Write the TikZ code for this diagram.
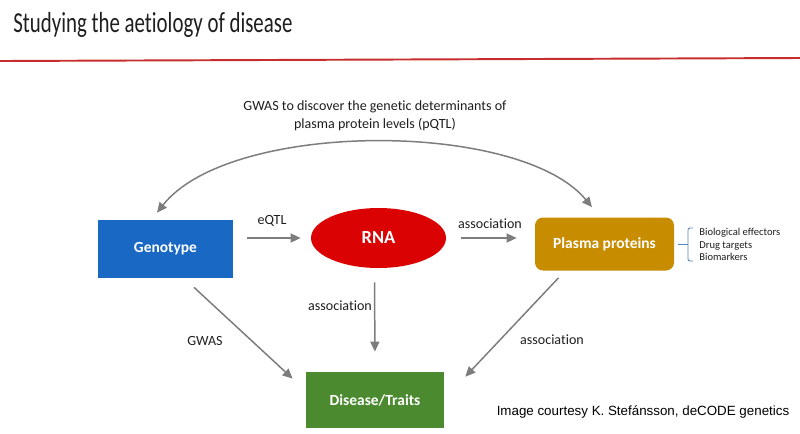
\documentclass[tikz,border=0pt]{standalone}
\usepackage{graphicx}
\usepackage{fontspec}
\setmainfont{Carlito}[Ligatures=NoCommon]
\newfontfamily\arialfont{Liberation Sans}
\usepackage{tikz}
\usetikzlibrary{shapes.geometric, arrows.meta, positioning}
\definecolor{genoblue}{RGB}{24,104,196}
\definecolor{rnared}{RGB}{218,2,2}
\definecolor{plasmagold}{RGB}{200,140,0}
\definecolor{diseasegreen}{RGB}{76,138,48}
\definecolor{arrowgray}{RGB}{125,125,125}
\definecolor{titlered}{RGB}{200,45,45}
\definecolor{bracketblue}{RGB}{90,135,185}
\definecolor{inkblack}{RGB}{30,30,30}

\begin{document}
\begin{tikzpicture}[x=0.2mm, y=-0.2mm,
  box/.style={inner sep=0pt, text=white, font=\fontsize{8.8pt}{10pt}\selectfont\bfseries},
  lbl/.style={inner sep=0pt, text=inkblack, font=\fontsize{8pt}{10.5pt}\selectfont},
  arr/.style={draw=arrowgray, line width=0.85pt, -{Triangle[length=2mm,width=1.8mm]}}]
\useasboundingbox (0,0) rectangle (800,433);
% Title and rule
\node[anchor=base west, inner sep=0pt, text=inkblack] (title) at (13,32)
  {\scalebox{0.72}[1]{\fontsize{16.5pt}{18pt}\selectfont Studying the aetiology of disease}};
\draw[titlered, line width=1.1pt] (0,61) -- (800,58);
% Nodes
\node[box, fill=genoblue, minimum width=27mm, minimum height=11.6mm] (geno) at (165.5,249) {Genotype};
\node[box, fill=rnared, ellipse, minimum width=27mm, minimum height=12mm,
  font=\fontsize{10.5pt}{12pt}\selectfont\bfseries] (rna) at (378.5,238) {RNA};
\node[box, fill=plasmagold, rounded corners=1.6mm, minimum width=27.8mm, minimum height=10.6mm] (plasma) at (604.5,244) {Plasma proteins};
\node[box, fill=diseasegreen, minimum width=27.6mm, minimum height=11.2mm] (disease) at (375,400) {Disease/Traits};
% Top curved arrow (pQTL)
\coordinate (genotop) at ([xshift=-1.7mm, yshift=1.4mm]geno.north);
\coordinate (plasmatop) at ([xshift=-2.5mm, yshift=2mm]plasma.north);
\draw[arr, {Triangle[length=2mm,width=1.8mm]}-{Triangle[length=2mm,width=1.8mm]}]
  (genotop) .. controls (230,120) and (520,120) .. (plasmatop);
\node[lbl, align=center] (pqtl) at (375,116) {GWAS to discover the genetic determinants of\\plasma protein levels (pQTL)};
% Straight arrows
\draw[arr, shorten <=2.8mm, shorten >=2mm] (geno.east |- rna.west) -- (rna.west);
\node[lbl] (eqtl) at (272,221) {eQTL};
\draw[arr, shorten <=3mm, shorten >=3.6mm] (rna.east) -- (rna.east -| plasma.west);
\node[lbl] (assocrp) at (490,224) {association};
\draw[arr, shorten <=2.8mm, shorten >=4mm] ([xshift=-0.8mm]rna.south) -- (disease.north);
\node[lbl] (assocrd) at (340,306) {association};
\draw[arr] ([xshift=5.7mm, yshift=-1.8mm]geno.south) -- ([xshift=-2.6mm, yshift=-1.4mm]disease.north west);
\node[lbl] (gwas) at (205,341) {GWAS};
\draw[arr] ([xshift=-9.2mm, yshift=-1.4mm]plasma.south) -- ([xshift=4.2mm, yshift=-1mm]disease.north east);
\node[lbl] (assocpd) at (552,340) {association};
% Bracket and list
\draw[bracketblue, line width=0.5pt, rounded corners=0.4mm] (693,228) -- (688,228) -- (688,261) -- (693,261);
\draw[bracketblue, line width=0.5pt] (678,244.5) -- (688,244.5);
\node[anchor=west, align=left, inner sep=0pt, text=inkblack, font=\fontsize{6pt}{7pt}\selectfont] (roles) at (699,244.5)
  {Biological effectors\\Drug targets\\Biomarkers};
% Credit
\node[inner sep=0pt, text=black, font=\arialfont\fontsize{7.6pt}{9pt}\selectfont] (credit) at (643,412)
  {Image courtesy K. Stef\'ansson, deCODE genetics};
\end{tikzpicture}
\end{document}
